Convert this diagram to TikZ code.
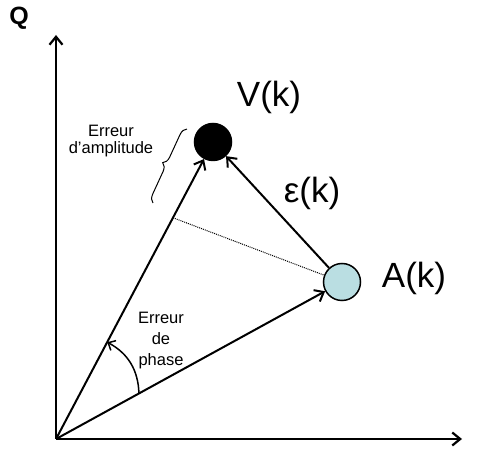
\documentclass[tikz,border=0pt]{standalone}
\usepackage{fontspec}
\setmainfont{Liberation Sans}
\usetikzlibrary{arrows.meta,decorations.pathreplacing,calc}
\definecolor{lightcyan}{RGB}{186,222,226}
\begin{document}
\begin{tikzpicture}[x=1pt,y=1pt,
  axis/.style={line width=2.4pt,-{Straight Barb[length=8pt,width=13pt,line width=2.2pt]}},
  vec/.style={line width=2pt,-{Straight Barb[length=8pt,width=13pt,line width=2pt]}},
  big/.style={font=\fontsize{35}{40}\selectfont,inner sep=0pt},
  small/.style={font=\fontsize{16.5}{17}\selectfont,align=center,inner sep=0pt},
  pt/.style={circle,draw,line width=1.5pt,minimum size=37pt,inner sep=0pt}]
\useasboundingbox (0,0) rectangle (477,474);
\coordinate (O) at (56,35);
\coordinate (Ytop) at (56,439);
\coordinate (Xend) at (462,35);
\node[pt,fill=black] (V) at (213,332) {};
\node[pt,fill=lightcyan] (A) at (342,192) {};
\node[font=\bfseries\fontsize{25}{27}\selectfont,inner sep=0pt] (Q) at (19,456) {Q};
\node[big] (Vl) at (269,377) {V(k)};
\node[big] (Al) at (414,196) {A(k)};
\node[big] (El) at (312,281) {ε(k)};
\node[small] (amp) at (111,333) {Erreur\\d’amplitude};
\node[small,font=\fontsize{16.5}{21}\selectfont] (ph) at (161,133) {Erreur\\de\\phase};
\draw[axis] (O) -- (Ytop);
\draw[axis] (O) -- (Xend);
\coordinate (D) at ($(O)!0.745!(V)$);
\draw[densely dotted,line width=1pt] (D) -- (A);
\draw[vec] (O) -- (V);
\draw[vec] (O) -- (A);
\draw[vec] (A) -- (V);
\coordinate (P1) at ($(O)!0.29!(A)$);
\coordinate (P2) at ($(O)!0.326!(V)$);
\draw[line width=1.5pt,-{Straight Barb[length=6pt,width=11pt,line width=1.5pt]}] (P1) to[bend right=30] (P2);
\coordinate (B1) at (153,271);
\coordinate (B2) at (187,345);
\draw[line width=1pt,decorate,decoration={brace,amplitude=8pt}] (B1) -- (B2);
\end{tikzpicture}
\end{document}
